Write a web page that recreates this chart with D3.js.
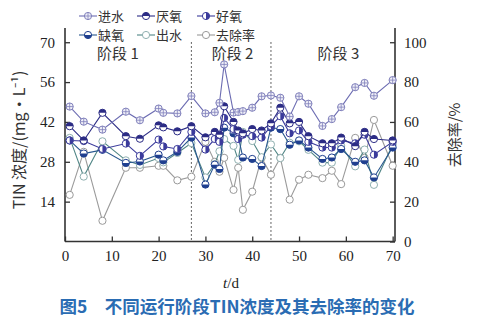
<!DOCTYPE html>
<html>
<head>
<meta charset="utf-8">
<script src="https://cdn.jsdelivr.net/npm/d3@7/dist/d3.min.js"></script>
<style>
  html, body { margin: 0; padding: 0; background: #fff; }
  svg { display: block; }
</style>
</head>
<body>
<svg id="chart" width="477" height="324"></svg>
<script>
// Sampling days (d)
const days = [1, 4, 8, 13, 16, 20, 21, 24, 27, 30, 32, 33, 34, 36, 37, 38, 40, 42,
              44, 46, 48, 50, 52, 55, 57, 59, 62, 64, 66, 70];

// TIN concentration, mg/L
const influent = [47.4, 42.1, 39.3, 45.6, 42.6, 46.7, 45.2, 45.0, 51.1, 45.0, 45.4, 48.7, 62.2, 45.3, 45.5, 45.8, 47.0, 51.0,
                  51.3, 50.5, 43.9, 51.0, 48.4, 40.6, 43.0, 47.2, 54.2, 55.7, 51.2, 56.7];
const anaerobic = [40.5, 35.5, 45.2, 37.0, 36.1, 40.8, 40.1, 38.7, 40.5, 36.6, 38.5, 37.5, 47.5, 42.0, 39.0, 38.0, 39.5, 39.0,
                   41.5, 47.0, 41.5, 42.0, 37.0, 34.5, 34.5, 36.5, 33.5, 38.5, 36.0, 35.5];
const aerobic = [35.5, 35.3, 32.5, 34.4, 30.1, 35.8, 33.4, 32.5, 38.5, 32.3, 36.0, 35.0, 43.4, 39.5, 36.0, 37.5, 37.0, 36.5,
                 40.5, 44.0, 38.0, 39.0, 35.0, 33.0, 33.0, 35.5, 34.5, 37.5, 30.5, 35.0];
const anoxic = [35.5, 30.9, 32.2, 27.6, 28.1, 30.5, 28.5, 31.5, 36.5, 20.0, 27.0, 25.5, 40.0, 38.0, 37.0, 29.5, 29.0, 26.5,
                40.0, 39.5, 34.0, 35.5, 33.0, 29.0, 29.5, 32.5, 28.0, 28.5, 22.5, 33.0];
const effluent = [36.4, 22.8, 35.2, 28.5, 26.9, 29.3, 27.8, 31.1, 34.6, 22.5, 27.2, 31.7, 36.0, 33.6, 28.7, 38.5, 35.3, 29.6,
                  34.1, 29.3, 34.7, 35.2, 32.2, 27.7, 27.7, 33.6, 26.4, 32.3, 19.9, 34.0];
// TIN removal rate, %
const removal = [23.4, 45.0, 10.4, 37.0, 37.0, 38.0, 38.0, 30.7, 32.5, 50.0, 40.0, 35.0, 42.0, 25.9, 37.0, 15.9, 25.0, 42.0,
                 33.5, 42.0, 21.0, 31.0, 33.5, 31.8, 35.5, 28.8, 52.0, 42.0, 61.0, 38.0];

// Axis ticks and labels
const xTicks = [0, 10, 20, 30, 40, 50, 60, 70];
const yLeftTicks = [14, 28, 42, 56, 70];
const yRightTicks = [0, 20, 40, 60, 80, 100];
const stageBreaks = [27, 44];
const stageLabels = [{ name: "阶段 1", day: 11.3 }, { name: "阶段 2", day: 35.8 }, { name: "阶段 3", day: 58.4 }];
const seriesNames = ["进水", "厌氧", "好氧", "缺氧", "出水", "去除率"];

const svg = d3.select("#chart");
const serif = "'Liberation Serif', 'DejaVu Serif', serif";
const cjk = "'Noto Sans CJK SC', sans-serif";

const plotLeft = 65, plotRight = 395, plotTop = 28, plotBottom = 241.5;
const x = d3.scaleLinear().domain([0, 70.5]).range([plotLeft, plotRight]);
const yL = d3.scaleLinear().domain([0, 75]).range([plotBottom, plotTop]);
const yR = d3.scaleLinear().domain([0, 75 / 0.7]).range([plotBottom, plotTop]);

const axisColor = "#333";

// Bottom axis
const gx = svg.append("g").attr("transform", `translate(0,${plotBottom})`)
  .call(d3.axisBottom(x).tickValues(xTicks).tickSizeInner(-5).tickSizeOuter(0).tickPadding(9));
// Left axis
const gyl = svg.append("g").attr("transform", `translate(${plotLeft},0)`)
  .call(d3.axisLeft(yL).tickValues(yLeftTicks).tickSizeInner(-5).tickSizeOuter(0).tickPadding(10));
// Right axis
const gyr = svg.append("g").attr("transform", `translate(${plotRight},0)`)
  .call(d3.axisRight(yR).tickValues(yRightTicks).tickSizeInner(-5).tickSizeOuter(0).tickPadding(9));

[gx, gyl, gyr].forEach(g => {
  g.attr("font-family", serif).attr("font-size", 15);
  g.select(".domain").attr("stroke", axisColor).attr("stroke-width", 1.6);
  g.selectAll(".tick line").attr("stroke", axisColor).attr("stroke-width", 1.3);
  g.selectAll(".tick text").attr("font-family", serif).attr("font-size", 15).attr("fill", "#222");
});
gyl.select(".domain").attr("d", `M0,${plotBottom}V${plotTop}`);
gyr.select(".domain").attr("d", `M0,${plotBottom}V${plotTop}`);
gx.select(".domain").attr("d", `M${plotLeft},0H${plotRight}`);

// Stage separators
svg.selectAll("line.stage").data(stageBreaks).join("line")
  .attr("x1", d => x(d)).attr("x2", d => x(d))
  .attr("y1", yL(70)).attr("y2", plotBottom)
  .attr("stroke", "#333").attr("stroke-width", 1).attr("stroke-dasharray", "1.5,2.5");

svg.selectAll("text.stage").data(stageLabels).join("text")
  .attr("x", d => x(d.day)).attr("y", 59)
  .attr("text-anchor", "middle")
  .attr("font-family", cjk).attr("font-size", 15).attr("fill", "#333")
  .text(d => d.name);

// Series definitions
const styles = [
  { name: seriesNames[0], values: influent, scale: yL, line: "#6c6cb2", edge: "#8080bb", fill: "#f0f0f8", mark: "cross" },
  { name: seriesNames[1], values: anaerobic, scale: yL, line: "#2c2c85", edge: "#2c2c85", fill: "#fff", mark: "top" },
  { name: seriesNames[2], values: aerobic, scale: yL, line: "#3b3b9c", edge: "#3b3b9c", fill: "#fff", mark: "right" },
  { name: seriesNames[3], values: anoxic, scale: yL, line: "#27568e", edge: "#1f3f8f", fill: "#fff", mark: "bottom" },
  { name: seriesNames[4], values: effluent, scale: yL, line: "#4f8585", edge: "#8fb0b0", fill: "#fff", mark: "open" },
  { name: seriesNames[5], values: removal, scale: yR, line: "#9a9a9a", edge: "#9a9a9a", fill: "#fff", mark: "open" }
];

const r = 3.6;
function halfPath(kind, rr) {
  if (kind === "top") return `M${-rr},0A${rr},${rr} 0 0 1 ${rr},0Z`;
  if (kind === "bottom") return `M${-rr},0A${rr},${rr} 0 0 0 ${rr},0Z`;
  if (kind === "right") return `M0,${-rr}A${rr},${rr} 0 0 1 0,${rr}Z`;
  return null;
}
function drawMarker(g, s) {
  g.append("circle").attr("r", r).attr("fill", s.fill).attr("stroke", s.edge).attr("stroke-width", 1);
  const hp = halfPath(s.mark, r);
  if (hp) g.append("path").attr("d", hp).attr("fill", s.edge);
  if (s.mark === "cross") {
    g.append("path").attr("d", `M${-r},0H${r}M0,${-r}V${r}`).attr("stroke", s.edge).attr("stroke-width", 0.8);
  }
}

const plot = svg.append("g");
// draw bottom-most series first
[5, 4, 3, 2, 1, 0].forEach(i => {
  const s = styles[i];
  const pts = days.map((d, k) => [x(d), s.scale(s.values[k])]);
  plot.append("path")
    .attr("d", d3.line()(pts))
    .attr("fill", "none").attr("stroke", s.line).attr("stroke-width", 1.1);
  plot.append("g").selectAll("g").data(pts).join("g")
    .attr("transform", p => `translate(${p[0]},${p[1]})`)
    .each(function () { drawMarker(d3.select(this), s); });
});

// Legend (two rows of three)
const legendCols = [79, 137, 197];
const legendRows = [16, 35];
styles.forEach((s, i) => {
  const lx = legendCols[i % 3], ly = legendRows[Math.floor(i / 3)];
  const g = svg.append("g").attr("transform", `translate(${lx},${ly})`);
  g.append("line").attr("x1", 0).attr("x2", 18).attr("y1", 0).attr("y2", 0)
    .attr("stroke", s.line).attr("stroke-width", 1.1);
  drawMarker(g.append("g").attr("transform", "translate(9,0)"), s);
  g.append("text").attr("x", 19).attr("y", 4.6)
    .attr("font-family", cjk).attr("font-size", 13).attr("fill", "#333").text(s.name);
});

// Axis titles
svg.append("text")
  .attr("transform", `translate(25,140) rotate(-90)`)
  .attr("text-anchor", "middle")
  .attr("font-family", cjk).attr("font-size", 16).attr("fill", "#333")
  .text("TIN 浓度/(mg·L⁻¹)");
svg.append("text")
  .attr("transform", `translate(460,135) rotate(-90)`)
  .attr("text-anchor", "middle")
  .attr("font-family", cjk).attr("font-size", 15).attr("fill", "#333")
  .text("去除率/%");
svg.append("text")
  .attr("x", 231).attr("y", 288).attr("text-anchor", "middle")
  .attr("font-family", serif).attr("font-size", 15).attr("fill", "#222")
  .html("<tspan font-style='italic'>t</tspan>/d");

// Caption
svg.append("text")
  .attr("x", 237).attr("y", 313).attr("text-anchor", "middle")
  .attr("font-family", cjk).attr("font-size", 17.5).attr("font-weight", "bold").attr("fill", "#2a6cb3")
  .text("图5　不同运行阶段TIN浓度及其去除率的变化");
</script>
</body>
</html>
